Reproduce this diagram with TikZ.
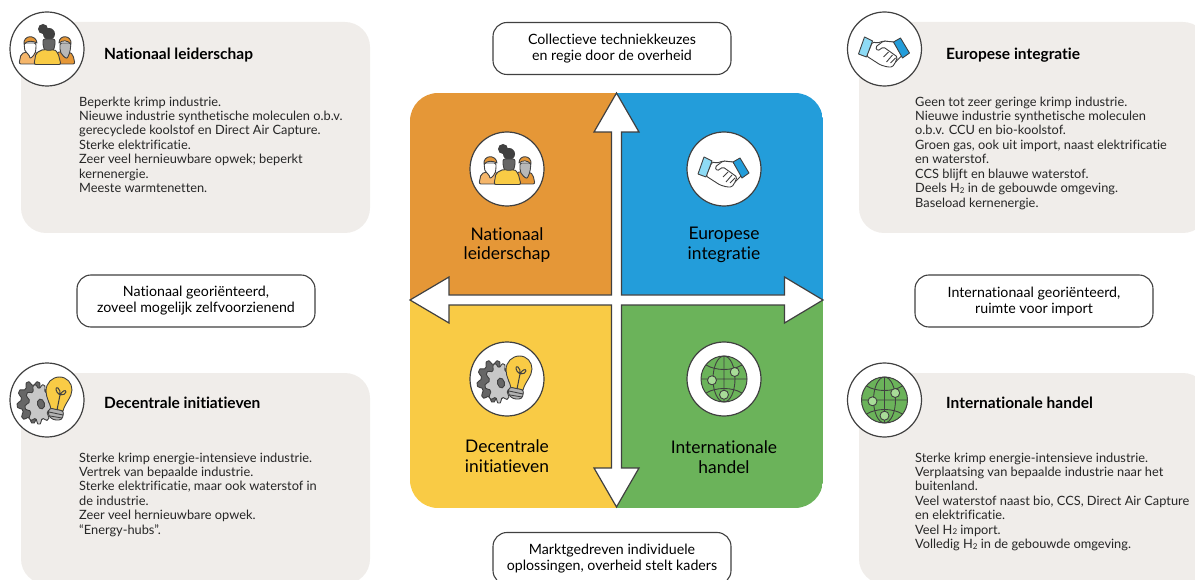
\documentclass[tikz,border=0pt]{standalone}
\usepackage{fontspec}
\setmainfont{Lato}[Ligatures=NoCommon]
\usepackage{xcolor}
\definecolor{qorange}{HTML}{E59737}
\definecolor{qblue}{HTML}{239DDA}
\definecolor{qyellow}{HTML}{F9CB45}
\definecolor{qgreen}{HTML}{6BB35A}
\definecolor{panelgrey}{HTML}{F0EDEA}
\definecolor{linegrey}{HTML}{404040}
\definecolor{lightorange}{HTML}{F5B66B}
\definecolor{lightblue}{HTML}{8EDBF5}
\definecolor{lightgreen}{HTML}{A8DC98}
\newcommand{\Hzwee}{H{\fontsize{8}{8}\selectfont\raisebox{-.6pt}{2}}}
\tikzset{
  panel/.style={fill=panelgrey,rounded corners=25},
  pill/.style={draw=linegrey,fill=white,line width=1.1,rounded corners=14,minimum width=238,minimum height=52,align=center,inner sep=0,font=\fontsize{14.2}{16}\selectfont},
  iconcircle/.style={circle,draw=linegrey,fill=white,line width=1.2,minimum size=74,inner sep=0},
  heading/.style={anchor=base west,inner sep=0,font=\fontsize{15.5}{17}\selectfont\bfseries},
  bodytext/.style={anchor=north west,align=left,inner sep=0,text=black!85,font=\fontsize{12.8}{14.43}\selectfont},
  quadlabel/.style={align=center,inner sep=0,font=\fontsize{17.4}{19.4}\selectfont},
  iconline/.style={draw=linegrey,line width=.9,line join=round},
  pics/people/.style={code={
    \draw[iconline,fill=lightorange,rounded corners=2] (-28,15)--(-26,5)--(-21,3)--(-10,3)--(-6,15)--cycle;
    \draw[iconline,fill=qorange,rounded corners=2] (6,15)--(10,3)--(23,3)--(26,6)--(28,15)--cycle;
    \draw[iconline,fill=white,rounded corners=2] (-23,-6)--(-22,3)--(-18,5)--(-17,10)--(-12,5)--(-11,0)--(-11,-6)--cycle;
    \draw[iconline,fill=qorange] (-23,-5)..controls (-24,-14) and (-11,-15) .. (-10,-6)..controls (-14,-8) and (-19,-9) .. (-23,-5)--cycle;
    \draw[iconline,fill=black!28,rounded corners=2] (13,-6)--(13,2)--(15,6)--(20,10)--(23,3)--(24,-6)--cycle;
    \draw[iconline,fill=qorange] (24,-5)..controls (25,-14) and (12,-15) .. (12,-6)..controls (16,-9) and (20,-9) .. (24,-5)--cycle;
    \fill[linegrey] (-4,-20) circle(5);
    \fill[linegrey] (2,-15) circle(6);
    \draw[iconline,fill=black!60,rounded corners=2] (-4,-10)--(8,-10)--(8,-3)--(5,4)--(-1,4)--(-4,-3)--cycle;
    \draw[iconline,fill=qyellow,rounded corners=2] (-13,15.5)--(-11,4)--(-3,0)--(2,2)--(7,0)--(11,4)--(14,15.5)--cycle;
  }},
  pics/hands/.style={code={
    \draw[iconline,fill=white,rounded corners=1.5] (-12,-7)--(-7,-6)--(-1,-8)--(9,-7)--(18,6)--(16,8)--(11,13)--(8,18)--(3,18)--(-4,16)--(-18,7)--cycle;
    \draw[iconline,fill=white,rounded corners=1.5] (9,-7)--(-1,-8)--(-9,-2)--(-7,2)--(-1,-2)--(13,8)--(11,13);
    \draw[iconline] (4,3)--(-1,8) (8,6)--(2,13) (11,9)--(6,14);
    \draw[iconline,fill=lightblue] (-20,-12)--(-12,-8)--(-18,8)--(-26,5)--cycle;
    \draw[iconline,fill=qblue] (16,-11)--(25,4)--(18,9)--(9,-7)--cycle;
  }},
  pics/gearbulb/.style={code={
    \draw[iconline,fill=black!60] plot[domain=0:360,samples=73] ({-14+(14+2*sign(sin(9*\x)))*cos(\x)},{2+(19+2*sign(sin(9*\x)))*sin(\x)})--cycle;
    \draw[iconline,fill=black!22] plot[domain=0:360,samples=73] ({-8+(12+2*sign(sin(9*\x)))*cos(\x)},{4+(18+2*sign(sin(9*\x)))*sin(\x)})--cycle;
    \draw[iconline,fill=black!60,rotate around={15:(-6,4)}] (-6,4) ellipse(3.5 and 5);
    \draw[iconline,fill=qyellow] (4,9)..controls (3,3) and (-1,-2) .. (-1,-9)..controls (-1,-17) and (5,-23) .. (12.5,-23)..controls (20,-23) and (25,-17) .. (25,-10)..controls (25,-3) and (18,3) .. (16,11)--cycle;
    \draw[iconline,fill=black!30,rounded corners=3] (2,8)--(17,11)--(15,20)--(6,20)--(1,15)--cycle;
    \draw[iconline] (2,12)--(16,15) (3,16)--(15,18);
    \draw[iconline,line width=1] (10,10)--(13,-5) (13,-5)..controls (8,-8) and (8,-14) .. (11,-12)..controls (13,-11) and (13,-8) .. (13,-5)..controls (15,-9) and (19,-11) .. (19,-8)..controls (19,-6) and (16,-5) .. (13,-5);
  }},
  pics/globe/.style={code={
    \draw[iconline,fill=qgreen,line width=1] (0,0) circle(23);
    \draw[iconline] (0,0) ellipse(11 and 23) (0,-23)--(0,23) (-23,0)--(23,0);
    \draw[iconline] (-18,-14)..controls (-8,-8) and (8,-8) .. (18,-14) (-18,14)..controls (-8,8) and (8,8) .. (18,14);
    \draw[iconline,fill=lightgreen] (10.7,-7) circle(4.5);
    \draw[iconline,fill=lightgreen] (-12,1.3) circle(4.5);
    \draw[iconline,fill=lightgreen] (0,15.7) circle(4.5);
  }},
}
\begin{document}
\begin{tikzpicture}[x=1pt,y=-1pt]
\useasboundingbox (0,0) rectangle (1195,580);
\clip (0,0) rectangle (1195,580);
\fill[panel] (21,22) rectangle (370,233);
\fill[panel] (21,373) rectangle (370,584);
\fill[panel] (859,22) rectangle (1208,233);
\fill[panel] (859,373) rectangle (1208,584);
\begin{scope}
\clip[rounded corners=28] (410,93) rectangle (823,508);
\fill[qorange] (410,93) rectangle (616.5,300);
\fill[qblue] (616.5,93) rectangle (823,300);
\fill[qyellow] (410,300) rectangle (616.5,508);
\fill[qgreen] (616.5,300) rectangle (823,508);
\end{scope}
\draw[draw=linegrey,fill=white,line width=1.2,line join=miter] (616.5,93)--(639,132)--(621.5,132)--(621.5,295)--(784.5,295)--(784.5,277)--(823,300)--(784.5,323)--(784.5,305)--(621.5,305)--(621.5,468)--(639,468)--(616.5,507)--(594,468)--(611.5,468)--(611.5,305)--(449,305)--(449,323)--(410,300)--(449,277)--(449,295)--(611.5,295)--(611.5,132)--(594,132)--cycle;
\node[pill] (topbox) at (612,48.5) {Collectieve techniekkeuzes\\en regie door de overheid};
\node[pill] (bottombox) at (612,558.5) {Marktgedreven individuele\\oplossingen, overheid stelt kaders};
\node[pill] (leftbox) at (196,301) {Nationaal georiënteerd,\\zoveel mogelijk zelfvoorzienend};
\node[pill] (rightbox) at (1034,301) {Internationaal georiënteerd,\\ruimte voor import};
\node[iconcircle] (natcorner) at (47,49) {};
\node[iconcircle] (eurcorner) at (884.5,49) {};
\node[iconcircle] (deccorner) at (47,400) {};
\node[iconcircle] (intcorner) at (884.5,400) {};
\node[iconcircle] (natquad) at (507,169) {};
\node[iconcircle] (eurquad) at (724,169) {};
\node[iconcircle] (decquad) at (507,379) {};
\node[iconcircle] (intquad) at (724,379) {};
\pic at (natcorner) {people};
\pic at (natquad) {people};
\pic at (eurcorner) {hands};
\pic at (eurquad) {hands};
\pic at (deccorner) {gearbulb};
\pic at (decquad) {gearbulb};
\pic at (intcorner) {globe};
\pic at (intquad) {globe};
\node[quadlabel] (natlabel) at (507,245) {Nationaal\\leiderschap};
\node[quadlabel] (eurlabel) at (724,245) {Europese\\integratie};
\node[quadlabel] (declabel) at (507,456) {Decentrale\\initiatieven};
\node[quadlabel] (intlabel) at (724,457) {Internationale\\handel};
\node[heading] (nathead) at (104,59.5) {Nationaal leiderschap};
\node[heading] (eurhead) at (946,59.5) {Europese integratie};
\node[heading] (dechead) at (104,408) {Decentrale initiatieven};
\node[heading] (inthead) at (946,408) {Internationale handel};
\node[bodytext] (nattext) at (79,96.5) {Beperkte krimp industrie.\\Nieuwe industrie synthetische moleculen o.b.v.\\gerecyclede koolstof en Direct Air Capture.\\Sterke elektrificatie.\\Zeer veel hernieuwbare opwek; beperkt\\kernenergie.\\Meeste warmtenetten.};
\node[bodytext] (eurtext) at (915,96.5) {Geen tot zeer geringe krimp industrie.\\Nieuwe industrie synthetische moleculen\\o.b.v. CCU en bio-koolstof.\\Groen gas, ook uit import, naast elektrificatie\\en waterstof.\\CCS blijft en blauwe waterstof.\\Deels \Hzwee{} in de gebouwde omgeving.\\Baseload kernenergie.};
\node[bodytext] (dectext) at (79,452.5) {Sterke krimp energie-intensieve industrie.\\Vertrek van bepaalde industrie.\\Sterke elektrificatie, maar ook waterstof in\\de industrie.\\Zeer veel hernieuwbare opwek.\\“Energy-hubs”.};
\node[bodytext] (inttext) at (915,452.5) {Sterke krimp energie-intensieve industrie.\\Verplaatsing van bepaalde industrie naar het\\buitenland.\\Veel waterstof naast bio, CCS, Direct Air Capture\\en elektrificatie.\\Veel \Hzwee{} import.\\Volledig \Hzwee{} in de gebouwde omgeving.};
\end{tikzpicture}
\end{document}
